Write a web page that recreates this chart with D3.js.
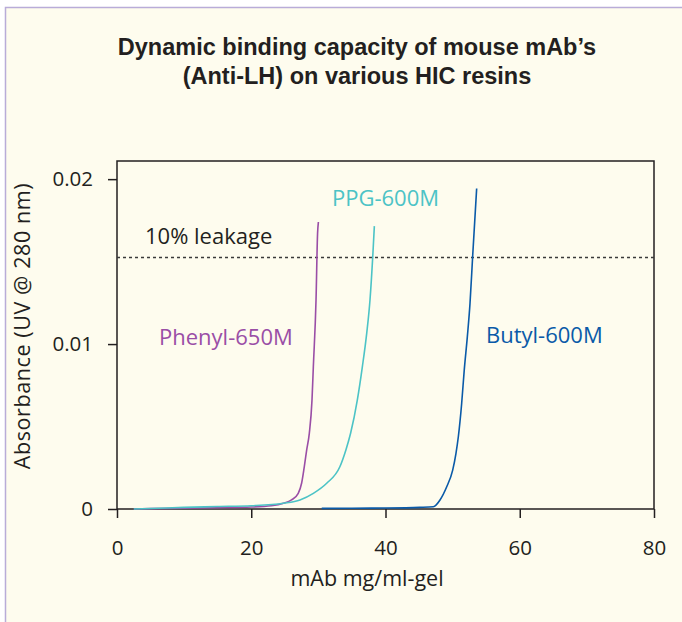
<!DOCTYPE html>
<html>
<head>
<meta charset="utf-8">
<title>Dynamic binding capacity</title>
<script src="https://cdn.jsdelivr.net/npm/d3@7/dist/d3.min.js"></script>
<style>
  body { margin: 0; background: #fff; }
  text { font-family: "Open Sans", sans-serif; }
  .title { font-family: "Liberation Sans", Arial, sans-serif; font-weight: bold; font-size: 23.5px; fill: #231f20; }
  .tick text { font-size: 20.5px; fill: #231f20; }
  .axis-title { font-size: 21.5px; fill: #231f20; }
  .series-label { font-size: 22px; }
</style>
</head>
<body>
<div id="chart"></div>
<script>
// data: [mAb mg/ml-gel, absorbance]
var phenyl = [[2.5,0],[5,0.00002],[10,0.00005],[15,0.00008],[20,0.00012],[23,0.0002],[24.8,0.00035],
  [26,0.00055],[27,0.00095],[27.5,0.00156],[27.9,0.00256],[28.26,0.00358],[28.65,0.00459],
  [29.05,0.0066],[29.25,0.00862],[29.65,0.01267],[29.88,0.01671],[30,0.0174]];
var ppg = [[2.5,0],[5,0.00003],[10,0.0001],[15,0.00015],[20,0.0002],[24.8,0.00035],[27.26,0.00055],
  [29.25,0.00095],[31.24,0.00156],[33.2,0.00256],[34.1,0.00358],[34.8,0.00459],[35.8,0.0066],
  [36.55,0.00862],[37.2,0.01065],[37.69,0.01267],[38.1,0.0153],[38.34,0.01715]];
var butyl = [[30.5,0.00004],[35,0.00005],[40,0.00006],[45.1,0.0001],[47.12,0.00014],[48.12,0.00055],
  [49.12,0.00135],[50.01,0.00236],[50.5,0.00338],[50.85,0.00438],[51.35,0.00641],[51.73,0.00842],
  [52.19,0.01044],[52.59,0.01247],[52.98,0.01529],[53.58,0.01943]];

var xTicks = [0, 20, 40, 60, 80];
var yTicks = [0, 0.01, 0.02];
var leakage = 0.01525;

var series = [
  { name: "Phenyl-650M", values: phenyl, color: "#9a4ea6", lx: 159, ly: 345 },
  { name: "PPG-600M", values: ppg, color: "#4cc3c6", lx: 332, ly: 206 },
  { name: "Butyl-600M", values: butyl, color: "#0a5aa8", lx: 486, ly: 343 }
];

var width = 682, height = 622;
var margin = { top: 161, right: 28, bottom: 113, left: 117 };

var svg = d3.select("#chart").append("svg")
  .attr("width", width)
  .attr("height", height);

// page frame
svg.append("rect").attr("x", 5).attr("y", 7).attr("width", width - 5).attr("height", height - 7)
  .attr("fill", "#fefcee");
svg.append("path").attr("d", "M5.5," + height + "V7.5H" + width)
  .attr("fill", "none").attr("stroke", "#b9acd8").attr("stroke-width", 1.5);

svg.append("text").attr("class", "title").attr("x", 357).attr("y", 55)
  .attr("text-anchor", "middle").text("Dynamic binding capacity of mouse mAb\u2019s");
svg.append("text").attr("class", "title").attr("x", 357).attr("y", 84)
  .attr("text-anchor", "middle").text("(Anti-LH) on various HIC resins");

var x = d3.scaleLinear().domain([0, 80]).range([margin.left, width - margin.right]);
var y = d3.scaleLinear().domain([0, 0.0211]).range([height - margin.bottom, margin.top]);

var g = svg.append("g");

var xAxis = g.append("g")
  .attr("transform", "translate(0," + y(0) + ")")
  .call(d3.axisBottom(x).tickValues(xTicks).tickSize(9).tickPadding(22).tickFormat(d3.format("d")));
var yAxis = g.append("g")
  .attr("transform", "translate(" + x(0) + ",0)")
  .call(d3.axisLeft(y).tickValues(yTicks).tickSize(9).tickPadding(15).tickFormat(function(d) { return d === 0 ? "0" : d3.format(".2f")(d); }));

[xAxis, yAxis].forEach(function(a) {
  a.select(".domain").remove();
  a.selectAll(".tick line").attr("stroke", "#231f20").attr("stroke-width", 1.5);
  a.selectAll(".tick text").attr("font-family", null).attr("font-size", null);
});

// plot box
g.append("rect")
  .attr("x", x(0)).attr("y", y.range()[1])
  .attr("width", x(80) - x(0)).attr("height", y(0) - y.range()[1])
  .attr("fill", "none").attr("stroke", "#231f20").attr("stroke-width", 1.5);

// 10% leakage
g.append("line")
  .attr("x1", x(0)).attr("x2", x(80)).attr("y1", y(leakage)).attr("y2", y(leakage))
  .attr("stroke", "#3a3a3a").attr("stroke-width", 1.5).attr("stroke-dasharray", "3,3");
g.append("text").attr("x", 145).attr("y", 244).attr("fill", "#231f20")
  .attr("class", "series-label").text("10% leakage");

var line = d3.line()
  .x(function(d) { return x(d[0]); })
  .y(function(d) { return y(d[1]); })
  .curve(d3.curveMonotoneX);

series.forEach(function(s) {
  g.append("path").datum(s.values)
    .attr("d", line)
    .attr("fill", "none")
    .attr("stroke", s.color)
    .attr("stroke-width", 1.6);
  g.append("text").attr("class", "series-label")
    .attr("x", s.lx).attr("y", s.ly).attr("fill", s.color).text(s.name);
});

svg.append("text").attr("class", "axis-title")
  .attr("x", 367).attr("y", 586).attr("text-anchor", "middle").text("mAb mg/ml-gel");
svg.append("text").attr("class", "axis-title")
  .attr("transform", "translate(30,326) rotate(-90)")
  .attr("text-anchor", "middle").attr("letter-spacing", "0.6px").text("Absorbance (UV @ 280 nm)");
</script>
</body>
</html>
